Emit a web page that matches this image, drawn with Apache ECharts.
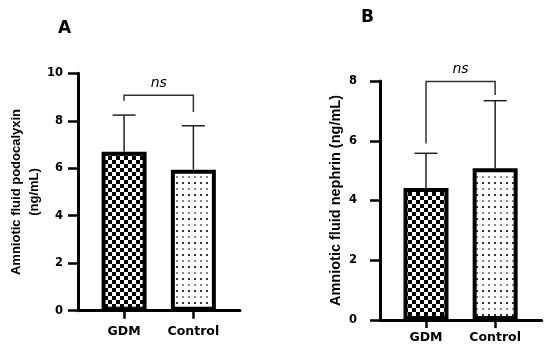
<!DOCTYPE html>
<html><head><meta charset="utf-8">
<script src="https://cdn.jsdelivr.net/npm/echarts@6/dist/echarts.min.js"></script>
<style>html,body{margin:0;padding:0;background:#fff}#c{width:550px;height:350px}</style>
</head><body><div id="c"></div>
<script>
// ---- data ----
const groups = ['GDM', 'Control'];
const podoMean = [6.70, 5.94];
const podoSD = [1.54, 1.85];
const nephMean = [4.42, 5.08];
const nephSD = [1.16, 2.26];
const podoTicks = [0, 2, 4, 6, 8, 10];
const nephTicks = [0, 2, 4, 6, 8];
// bracket: [left end, top, right end]
const podoBracket = [8.84, 9.08, 8.37];
const nephBracket = [5.91, 7.98, 7.53];
const sigLabel = 'ns';

// ---- patterns ----
function checker() {
  const c = document.createElement('canvas'); c.width = 8; c.height = 8;
  const g = c.getContext('2d');
  g.fillStyle = '#fff'; g.fillRect(0, 0, 8, 8);
  g.fillStyle = '#000'; g.fillRect(0, 0, 4, 4); g.fillRect(4, 4, 4, 4);
  return c;
}
function dots() {
  const c = document.createElement('canvas'); c.width = 6; c.height = 12;
  const g = c.getContext('2d');
  g.fillStyle = '#fff'; g.fillRect(0, 0, 6, 12);
  g.fillStyle = '#333'; g.fillRect(2, 2, 2, 2);
  g.fillStyle = '#888'; g.fillRect(2, 8, 2, 2);
  return c;
}
const fills = [{ image: checker(), repeat: 'repeat' }, { image: dots(), repeat: 'repeat' }];

const chart = echarts.init(document.getElementById('c'));

function xAxisCfg(gi, margin) {
  return {
    type: 'value', gridIndex: gi, min: -0.665, max: 1.673,
    splitLine: { show: false },
    axisLine: { show: true, onZero: false, lineStyle: { color: '#000', width: 3 } },
    axisTick: { show: true, customValues: [0, 1], length: 8, lineStyle: { color: '#000', width: 2.5 } },
    axisLabel: {
      customValues: [0, 1], margin: margin,
      formatter: v => groups[Math.round(v)],
      color: '#000', fontFamily: 'DejaVu Sans', fontWeight: 'bold', fontSize: 12.5
    }
  };
}
function yAxisCfg(gi, ticks, name, nameSize, nameGap, labelMargin) {
  return {
    type: 'value', gridIndex: gi, min: ticks[0], max: ticks[ticks.length - 1], interval: 2,
    splitLine: { show: false },
    name: name, nameLocation: 'middle', nameRotate: 90, nameGap: nameGap,
    nameTextStyle: { color: '#000', fontFamily: 'Liberation Sans', fontWeight: 'bold', fontSize: nameSize, lineHeight: 18 },
    axisLine: { show: true, onZero: false, lineStyle: { color: '#000', width: 3 } },
    axisTick: { show: true, length: 10, lineStyle: { color: '#000', width: 2.5 } },
    axisLabel: { margin: labelMargin, color: '#000', fontFamily: 'DejaVu Sans', fontWeight: 'bold', fontSize: 11.5 }
  };
}
function barSeries(gi, means) {
  return {
    type: 'bar', xAxisIndex: gi, yAxisIndex: gi, barWidth: 45, barMaxWidth: 60, z: 3,
    data: means.map((m, i) => ({ value: [i, m], itemStyle: { color: fills[i] } })),
    itemStyle: { borderColor: '#000', borderWidth: 4 },
    emphasis: { disabled: true }
  };
}
function errSeries(gi, means, sds) {
  return {
    type: 'custom', xAxisIndex: gi, yAxisIndex: gi, z: 2,
    data: means.map((m, i) => [i, m, sds[i]]),
    renderItem: (params, api) => {
      const x = api.value(0), m = api.value(1), s = api.value(2);
      const p0 = api.coord([x, m]), p1 = api.coord([x, m + s]);
      const st = { stroke: '#222', lineWidth: 1.5 };
      return { type: 'group', children: [
        { type: 'line', shape: { x1: p0[0], y1: p0[1], x2: p1[0], y2: p1[1] }, style: st },
        { type: 'line', shape: { x1: p1[0] - 11.5, y1: p1[1], x2: p1[0] + 11.5, y2: p1[1] }, style: st }
      ] };
    }
  };
}
function bracketSeries(gi, b) {
  return {
    type: 'custom', xAxisIndex: gi, yAxisIndex: gi, z: 4,
    data: [[0, 1, b[0], b[1], b[2]]],
    renderItem: (params, api) => {
      const a = api.coord([api.value(0), api.value(2)]);
      const t1 = api.coord([api.value(0), api.value(3)]);
      const t2 = api.coord([api.value(1), api.value(3)]);
      const c = api.coord([api.value(1), api.value(4)]);
      return { type: 'group', children: [
        { type: 'polyline', shape: { points: [a, t1, t2, c] }, style: { stroke: '#333', lineWidth: 1.5, fill: null } },
        { type: 'text', style: { text: sigLabel, x: (t1[0] + t2[0]) / 2, y: t1[1] - 5, align: 'center', verticalAlign: 'bottom',
          fontFamily: 'DejaVu Sans', fontStyle: 'italic', fontSize: 14, fill: '#000' } }
      ] };
    }
  };
}

chart.setOption({
  animation: false,
  title: [
    { text: 'A', left: 53, top: 15, textStyle: { fontFamily: 'DejaVu Sans', fontWeight: 'bold', fontSize: 17, color: '#000' } },
    { text: 'B', left: 356, top: 4, textStyle: { fontFamily: 'DejaVu Sans', fontWeight: 'bold', fontSize: 17, color: '#000' } }
  ],
  grid: [
    { left: 78, top: 73.3, width: 162, height: 237.4 },
    { left: 380, top: 81, width: 161.7, height: 239 }
  ],
  xAxis: [xAxisCfg(0, 15), xAxisCfg(1, 11)],
  yAxis: [
    yAxisCfg(0, podoTicks, 'Amniotic fluid podocalyxin\n(ng/mL)', 13, 35, 15),
    yAxisCfg(1, nephTicks, 'Amniotic fluid nephrin (ng/mL)', 14.5, 30, 23)
  ],
  series: [
    errSeries(0, podoMean, podoSD), barSeries(0, podoMean), bracketSeries(0, podoBracket),
    errSeries(1, nephMean, nephSD), barSeries(1, nephMean), bracketSeries(1, nephBracket)
  ]
});
</script></body></html>
